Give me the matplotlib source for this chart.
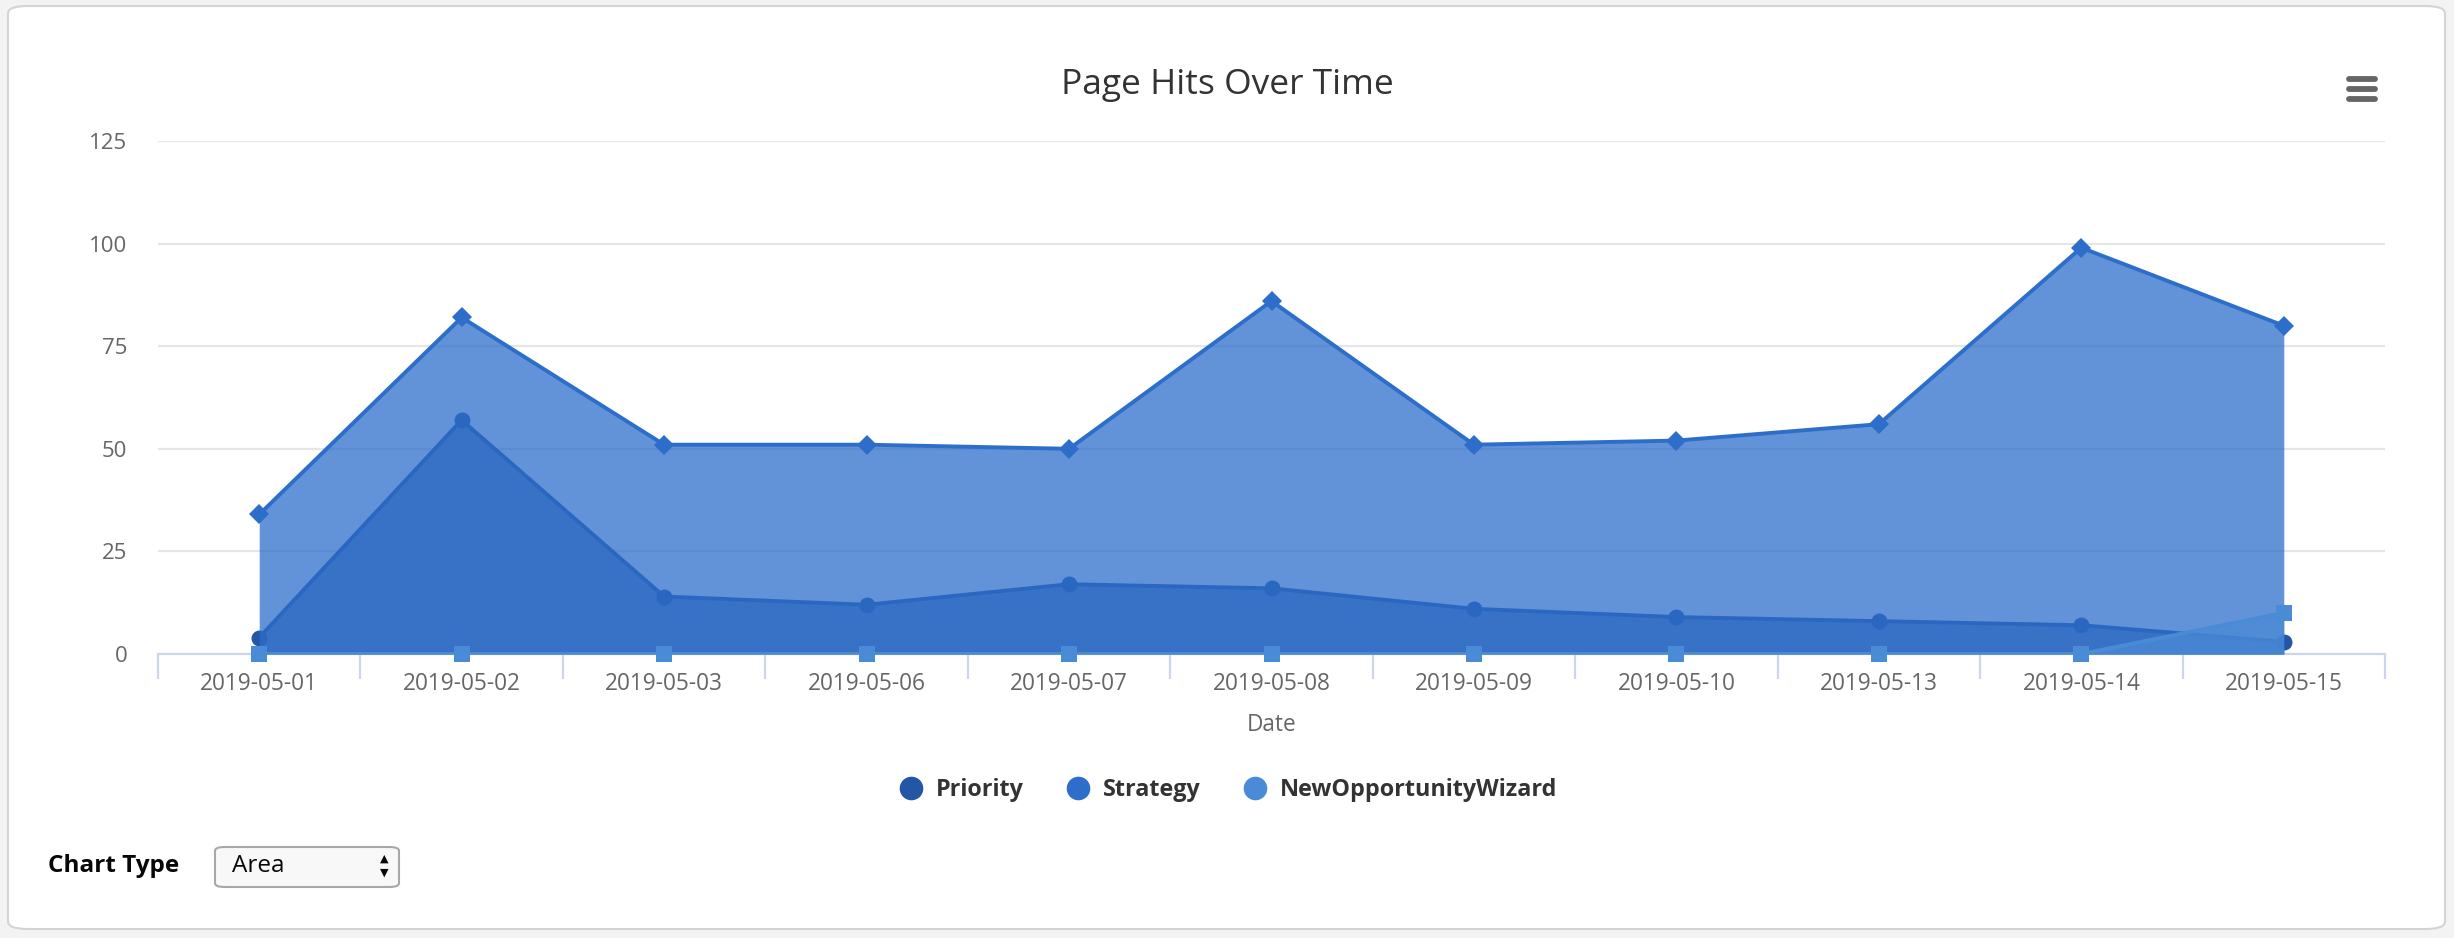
import numpy as np
import matplotlib.pyplot as plt
from matplotlib.lines import Line2D
from matplotlib.patches import FancyBboxPatch

dates = ['2019-05-01', '2019-05-02', '2019-05-03', '2019-05-06', '2019-05-07', '2019-05-08',
         '2019-05-09', '2019-05-10', '2019-05-13', '2019-05-14', '2019-05-15']
priority = [4, 57, 14, 12, 17, 16, 11, 9, 8, 7, 3]
strategy = [34, 82, 51, 51, 50, 86, 51, 52, 56, 99, 80]
new_opp_wizard = [0, 0, 0, 0, 0, 0, 0, 0, 0, 0, 10]
y_ticks = [0, 25, 50, 75, 100, 125]

series_names = ['Priority', 'Strategy', 'NewOpportunityWizard']
colors = ['#2356a5', '#2d6ecb', '#4a8bd6']
markers = ['o', 'D', 's']

plt.rcParams['font.family'] = ['Open Sans', 'DejaVu Sans']

W, H = 2454, 938
fig = plt.figure(figsize=(W / 100, H / 100), dpi=100)
fig.patch.set_facecolor('#f3f3f3')


def fx(px):
    return px / W


def fy(py):
    return 1 - py / H


# white card behind everything
card = FancyBboxPatch((fx(8), fy(929)), fx(2437), (929 - 6) / H,
                      boxstyle='round,pad=0,rounding_size=0.008',
                      transform=fig.transFigure, facecolor='white',
                      edgecolor='#d4d4d4', linewidth=1.5, zorder=-10)
fig.patches.append(card)

left, right, top, bottom = 158, 2385, 141, 654
ax = fig.add_axes([fx(left), fy(bottom), (right - left) / W, (bottom - top) / H])
ax.set_facecolor('none')

x = np.arange(len(dates))
data = [priority, strategy, new_opp_wizard]
msizes = [11.5, 10, 11]
for i, (vals, c, m) in enumerate(zip(data, colors, markers)):
    z = 2 + i * 3
    ax.fill_between(x, 0, vals, color=c, alpha=0.75, linewidth=0, zorder=z)
    ax.plot(x, vals, color=c, linewidth=2.8, zorder=z + 1, solid_joinstyle='round')
    ax.plot(x, vals, linestyle='none', marker=m, markersize=msizes[i],
            markerfacecolor=c, markeredgewidth=0, zorder=z + 2, clip_on=False)

ax.set_xlim(-0.5, len(dates) - 0.5)
ax.set_ylim(0, 125)
ax.set_yticks(y_ticks)
ax.set_yticklabels([str(v) for v in y_ticks])
ax.yaxis.grid(True, color='#e6e6e6', linewidth=1.6, zorder=0)
ax.set_axisbelow(True)
ax.tick_params(axis='y', length=0, pad=22, labelsize=16, labelcolor='#666666')

ax.set_xticks(x)
ax.set_xticklabels(dates)
ax.set_xticks(np.arange(-0.5, len(dates)), minor=True)
ax.tick_params(axis='x', which='major', length=0, pad=13, labelsize=16.3, labelcolor='#666666')
ax.tick_params(axis='x', which='minor', length=18, width=1.6, color='#ccd6eb')

for s in ['top', 'right', 'left']:
    ax.spines[s].set_visible(False)
ax.spines['bottom'].set_color('#ccd6eb')
ax.spines['bottom'].set_linewidth(1.6)
ax.spines['bottom'].set_zorder(1)

ax.set_xlabel('Date', fontsize=16.3, color='#666666', labelpad=12)

fig.text(0.5, fy(85), 'Page Hits Over Time', ha='center', va='center',
         fontsize=25.5, color='#333333')

# menu icon
for yy in [79, 89, 99]:
    fig.add_artist(Line2D([fx(2349), fx(2375)], [fy(yy), fy(yy)], color='#666666',
                          linewidth=4.2, solid_capstyle='round'))

handles = [Line2D([], [], linestyle='none', marker='o', markersize=17,
                  markerfacecolor=c, markeredgewidth=0) for c in colors]
fig.legend(handles, series_names, loc='center', bbox_to_anchor=(0.5, fy(790)),
           ncol=3, frameon=False, prop={'weight': 'bold', 'size': 16.8},
           labelcolor='#333333', handletextpad=0.45, columnspacing=1.75,
           handlelength=1.2)

fig.text(fx(48), fy(866), 'Chart Type', ha='left', va='center', fontsize=17.5,
         fontweight='bold', color='#080707')
box = FancyBboxPatch((fx(215), fy(887)), fx(184), 40 / H,
                     boxstyle='round,pad=0,rounding_size=0.004',
                     transform=fig.transFigure, facecolor='#f8f8f8',
                     edgecolor='#a8a8a8', linewidth=1.5)
fig.patches.append(box)
fig.text(fx(232), fy(866), 'Area', ha='left', va='center', fontsize=17.5, color='#080707')
fig.text(fx(384), fy(859), '\u25b2', ha='center', va='center', fontsize=8, color='#080707',
         family='DejaVu Sans')
fig.text(fx(384), fy(873), '\u25bc', ha='center', va='center', fontsize=8, color='#080707',
         family='DejaVu Sans')

fig.savefig('out.png', dpi=100, facecolor=fig.get_facecolor())
